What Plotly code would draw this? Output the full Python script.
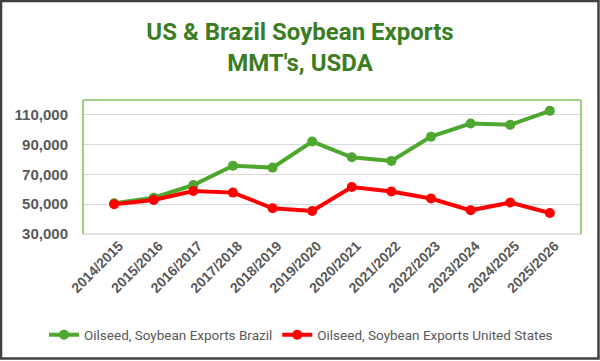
import plotly.graph_objects as go

seasons = ["2014/2015", "2015/2016", "2016/2017", "2017/2018", "2018/2019", "2019/2020",
           "2020/2021", "2021/2022", "2022/2023", "2023/2024", "2024/2025", "2025/2026"]
brazil = [50600, 54400, 62900, 75900, 74600, 92100, 81500, 79100, 95400, 104200, 103300, 112700]
united_states = [50000, 52900, 58900, 57800, 47300, 45500, 61600, 58500, 53800, 45900, 51100, 44100]
y_ticks = [30000, 50000, 70000, 90000, 110000]

W, H = 600, 361
L, R, T, B = 83, 19, 100, 127
pw, ph = W - L - R, H - T - B

def px(x):
    return (x - L) / pw

def py(y):
    return (H - B - y) / ph

fig = go.Figure()
fig.add_trace(go.Scatter(
    x=seasons, y=brazil, mode="lines+markers", name="Oilseed, Soybean Exports Brazil",
    line=dict(color="#4EA72E", width=4), marker=dict(size=10, color="#4EA72E")))
fig.add_trace(go.Scatter(
    x=seasons, y=united_states, mode="lines+markers", name="Oilseed, Soybean Exports United States",
    line=dict(color="#FF0000", width=4), marker=dict(size=10, color="#FF0000")))

fig.update_layout(
    width=W, height=H,
    margin=dict(l=L, r=R, t=T, b=B, autoexpand=False),
    paper_bgcolor="white", plot_bgcolor="white",
    title=dict(text="US & Brazil Soybean Exports<br>MMT's, USDA",
               x=0.5, xanchor="center", y=1 - 40 / H, yanchor="middle",
               font=dict(family="Roboto, sans-serif", size=24,
                         color="#3B7D23", weight="bold")),
    showlegend=True,
    legend=dict(orientation="h", x=px(44), xanchor="left", y=py(335), yanchor="middle",
                font=dict(family="Roboto, sans-serif", size=13.5, color="#595959"),
                itemwidth=30, bgcolor="rgba(0,0,0,0)"),
    xaxis=dict(type="category", tickangle=-45, showgrid=False, showline=False, ticks="",
               automargin=False, ticklabelshift=5,
               tickfont=dict(family="Liberation Sans, Arial, sans-serif", size=14, color="#595959", weight="bold")),
    yaxis=dict(range=[30000, 120000], tickvals=y_ticks, tickformat=",d", showgrid=True,
               gridcolor="#D9D9D9", gridwidth=1, zeroline=False, showline=False, ticks="",
               automargin=False, ticklabelstandoff=14,
               tickfont=dict(family="Liberation Sans, Arial, sans-serif", size=15, color="#595959", weight="bold")),
    shapes=[
        dict(type="line", xref="paper", yref="paper", x0=0, x1=1, y0=0, y1=0,
             line=dict(color="#D9D9D9", width=1.5), layer="below"),
        dict(type="line", xref="paper", yref="paper", x0=0, x1=0, y0=0, y1=1,
             line=dict(color="#7CC15A", width=1.5)),
        dict(type="line", xref="paper", yref="paper", x0=0, x1=1, y0=1, y1=1,
             line=dict(color="#7CC15A", width=1.5)),
        dict(type="line", xref="paper", yref="paper", x0=1, x1=1, y0=0, y1=1,
             line=dict(color="#7CC15A", width=1.5)),
        dict(type="rect", xref="paper", yref="paper", x0=px(1), x1=px(598.5), y0=py(1), y1=py(358.5),
             line=dict(color="#404040", width=2.5), fillcolor="rgba(0,0,0,0)"),
    ],
)

fig.write_html("out.html", config={"displayModeBar": False},
               post_script="document.body.style.margin='0';document.body.style.overflow='hidden';")
